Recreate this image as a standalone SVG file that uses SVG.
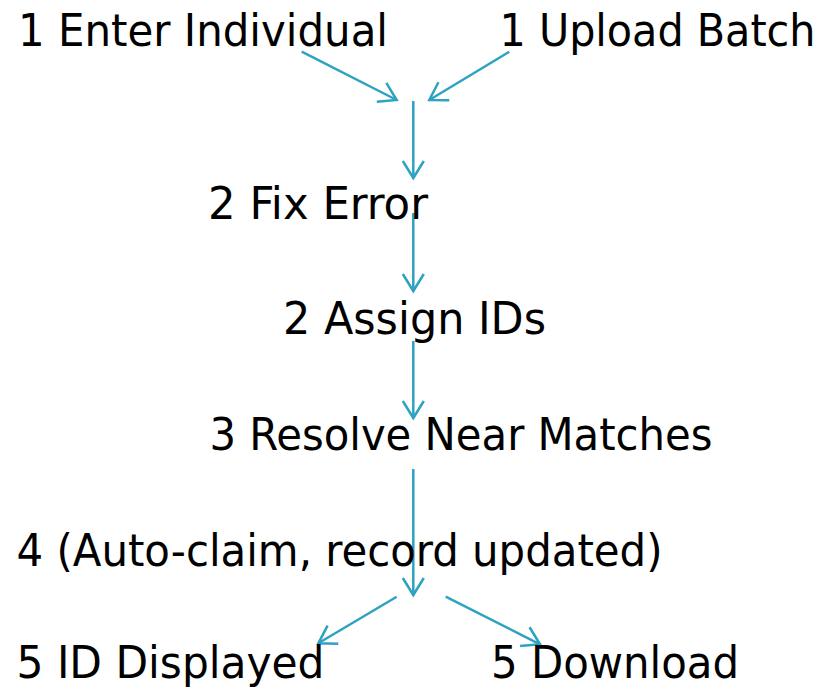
<svg xmlns="http://www.w3.org/2000/svg" width="827" height="689" viewBox="0 0 827 689">
<style>
.lbl{font-family:"DejaVu Sans Condensed","DejaVu Sans","Liberation Sans",sans-serif;font-size:45px;fill:#000}
.con{fill:none;stroke:#2EA3C1;stroke-width:2.5}
</style>
<defs>
<marker id="arr" markerUnits="userSpaceOnUse" viewBox="-20 -20 40 40" markerWidth="40" markerHeight="40" refX="0" refY="0" orient="auto" overflow="visible">
<path d="M-17,-10.5 L0,0 L-17,10.5" fill="none" stroke="#2EA3C1" stroke-width="2.5"/>
</marker>
</defs>
<rect width="827" height="689" fill="#fff"/>
<g id="connectors">
<line class="con" x1="301.7" y1="51.7" x2="396.7" y2="100" marker-end="url(#arr)"/>
<line class="con" x1="509.3" y1="51.7" x2="429.3" y2="100" marker-end="url(#arr)"/>
<line class="con" x1="413.3" y1="101" x2="413.3" y2="178" marker-end="url(#arr)"/>
<line class="con" x1="413.3" y1="213" x2="413.3" y2="291" marker-end="url(#arr)"/>
<line class="con" x1="413.3" y1="341" x2="413.3" y2="418" marker-end="url(#arr)"/>
<line class="con" x1="413.3" y1="469" x2="413.3" y2="595" marker-end="url(#arr)"/>
<line class="con" x1="396.7" y1="596.7" x2="318.3" y2="643.3" marker-end="url(#arr)"/>
<line class="con" x1="445.7" y1="596.7" x2="540" y2="644.3" marker-end="url(#arr)"/>
</g>
<g id="n1a"><text class="lbl" x="18" y="46" textLength="370" lengthAdjust="spacingAndGlyphs">1 Enter Individual</text></g>
<g id="n1b"><text class="lbl" x="499.5" y="46" textLength="316" lengthAdjust="spacingAndGlyphs">1 Upload Batch</text></g>
<g id="n2a"><text class="lbl" x="208" y="219" textLength="220" lengthAdjust="spacingAndGlyphs">2 Fix Error</text></g>
<g id="n2b"><text class="lbl" x="283" y="334" textLength="263" lengthAdjust="spacingAndGlyphs">2 Assign IDs</text></g>
<g id="n3"><text class="lbl" x="209.5" y="450" textLength="503" lengthAdjust="spacingAndGlyphs">3 Resolve Near Matches</text></g>
<g id="n4"><text class="lbl" x="16.5" y="566" textLength="646" lengthAdjust="spacingAndGlyphs">4 (Auto-claim, record updated)</text></g>
<g id="n5a"><text class="lbl" x="16.5" y="678" textLength="308" lengthAdjust="spacingAndGlyphs">5 ID Displayed</text></g>
<g id="n5b"><text class="lbl" x="491" y="678" textLength="248" lengthAdjust="spacingAndGlyphs">5 Download</text></g>
</svg>
